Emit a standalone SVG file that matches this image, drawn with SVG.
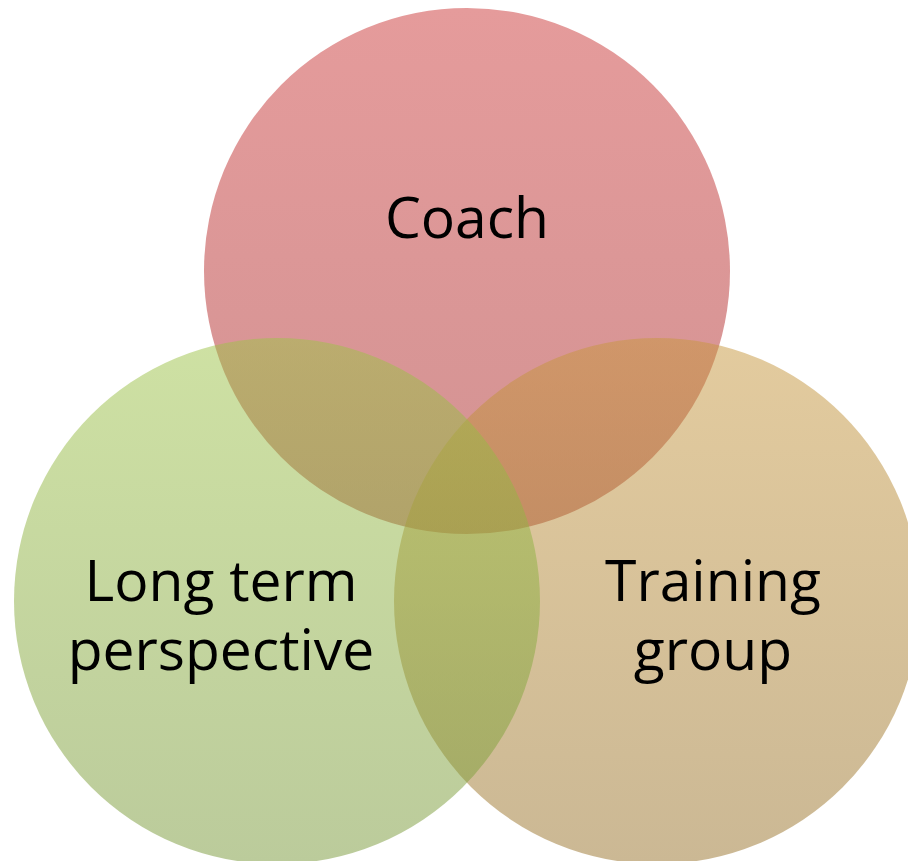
<svg xmlns="http://www.w3.org/2000/svg" width="908" height="861" viewBox="0 0 908 861">
  <defs>
    <linearGradient id="gradCoach" x1="0" y1="0" x2="0" y2="1">
      <stop offset="0" stop-color="rgb(203,55,55)" stop-opacity="0.5"/>
      <stop offset="1" stop-color="rgb(165,38,38)" stop-opacity="0.5"/>
    </linearGradient>
    <linearGradient id="gradGroup" x1="0" y1="0" x2="0" y2="1">
      <stop offset="0" stop-color="rgb(199,151,61)" stop-opacity="0.5"/>
      <stop offset="1" stop-color="rgb(151,113,41)" stop-opacity="0.5"/>
    </linearGradient>
    <linearGradient id="gradLong" x1="0" y1="0" x2="0" y2="1">
      <stop offset="0" stop-color="rgb(157,195,71)" stop-opacity="0.5"/>
      <stop offset="1" stop-color="rgb(119,151,55)" stop-opacity="0.5"/>
    </linearGradient>
  </defs>
  <style>
    .label { font-family: "Open Sans", "Noto Sans", "Liberation Sans", sans-serif; font-size: 57px; fill: #000000; text-anchor: middle; }
  </style>

  <g id="coach">
    <circle cx="467" cy="271" r="263" fill="url(#gradCoach)"/>
    <text class="label" x="467" y="238">Coach</text>
  </g>

  <g id="training-group">
    <circle cx="657" cy="601" r="263" fill="url(#gradGroup)"/>
    <text class="label" x="713" y="601">Training</text>
    <text class="label" x="713" y="670">group</text>
  </g>

  <g id="long-term-perspective">
    <circle cx="277" cy="601" r="263" fill="url(#gradLong)"/>
    <text class="label" x="221" y="601">Long term</text>
    <text class="label" x="221" y="670">perspective</text>
  </g>

  <g id="connectors"/>
</svg>
